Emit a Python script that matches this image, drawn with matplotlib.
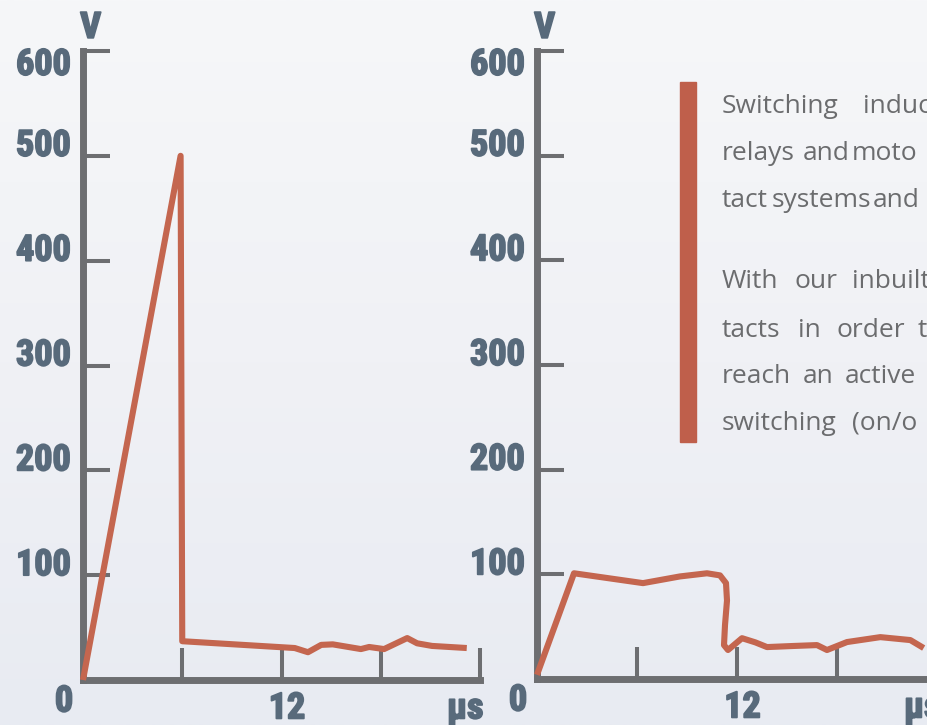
import numpy as np
import matplotlib
matplotlib.use("Agg")
import matplotlib.pyplot as plt
import matplotlib.patheffects as pe
from matplotlib.colors import LinearSegmentedColormap
from matplotlib.transforms import offset_copy
from matplotlib import font_manager

# chart data
Y_TICKS = [100, 200, 300, 400, 500, 600]
X_TICKS = [6, 12, 18, 24]
X_LABEL_TICK = 12
X_MAX = 24
Y_MAX = 600

# left: hard switching, spike to 500 V
left_t = [0, 5.9, 6.0, 12.8, 13.6, 14.4, 15.1, 16.8, 17.3, 18.2, 19.6, 20.2, 21.1, 23.2]
left_v = [0, 500, 37, 30.5, 26.5, 33.5, 34, 29.5, 31.5, 29.5, 40, 35, 32.5, 30.5]

# right: with suppression, stays around 100 V
right_t = [0, 2.22, 6.36, 8.58, 10.2, 10.98, 11.34, 11.4, 11.28, 11.22, 11.46, 12.3,
           13.1, 13.8, 15.3, 16.8, 17.4, 18.6, 20.6, 22.4, 23.2]
right_v = [4, 101, 91.6, 98, 101, 99, 91.6, 75, 51.5, 32.4, 27.7, 39,
           35, 30.5, 31.5, 32.4, 27.7, 35.3, 40, 37.2, 29.6]

# side text (cut off at the right edge, as in the original)
TEXT_LINES = [
    ["Switching", "induc"],
    ["relays", "and", "moto"],
    ["tact", "systems", "and"],
    ["With", "our", "inbuilt"],
    ["tacts", "in", "order", "t"],
    ["reach", "an", "active"],
    ["switching", "(on/o"],
]
WORD_X = [
    [722, 863],
    [722, 803, 852],
    [722, 772, 873],
    [722, 795, 852],
    [722, 798, 837, 918],
    [722, 803, 845],
    [722, 852],
]
LINE_Y = [113, 160, 207, 288, 337, 383, 430]

W, H = 928, 725
AXIS_COL = "#6d6e71"
LABEL_COL = "#586a7b"
LINE_COL = "#c4664f"
BAR_COL = "#bf5f4b"
TEXT_COL = "#6b6c6e"

# pick a narrow bold face if one is installed
installed = {f.name for f in font_manager.fontManager.ttflist}
NUM_FONT = "DejaVu Sans"
NUM_SIZE = 19
for name in ["Liberation Sans Narrow", "DejaVu Sans Condensed", "Roboto Condensed",
             "Open Sans Condensed", "Noto Sans Condensed"]:
    if name in installed:
        NUM_FONT = name
        NUM_SIZE = 26
        break
HEAVY = [pe.withStroke(linewidth=1.3, foreground=LABEL_COL)]

fig = plt.figure(figsize=(W / 100, H / 100), dpi=100)

# soft background gradient
bg = fig.add_axes([0, 0, 1, 1])
grad = np.linspace(0, 1, 256).reshape(-1, 1)
cmap = LinearSegmentedColormap.from_list("bg", ["#f6f7f9", "#f0f1f5", "#e8ebf2"])
bg.imshow(grad, aspect="auto", cmap=cmap, extent=[0, 1, 0, 1])
bg.axis("off")


def px_axes(x0, x1, y_bot, y_top):
    return fig.add_axes([x0 / W, 1 - y_bot / H, (x1 - x0) / W, (y_bot - y_top) / H])


def num_text(ax, x, y, s, tr, ha, va):
    ax.text(x, y, s, transform=tr, ha=ha, va=va, fontsize=NUM_SIZE,
            fontweight="bold", color=LABEL_COL, family=[NUM_FONT, "DejaVu Sans"],
            path_effects=HEAVY)


def draw_chart(ax, t, v):
    ax.set_xlim(0, X_MAX)
    ax.set_ylim(0, Y_MAX)
    ax.patch.set_visible(False)
    for s in ["top", "right"]:
        ax.spines[s].set_visible(False)
    for s in ["left", "bottom"]:
        ax.spines[s].set_color(AXIS_COL)
        ax.spines[s].set_linewidth(5)
        ax.spines[s].set_capstyle("projecting")
    ax.set_yticks(Y_TICKS)
    ax.set_yticklabels([])
    ax.set_xticks(X_TICKS)
    ax.set_xticklabels([])
    ax.tick_params(axis="y", direction="in", length=19.5, width=2.9, color=AXIS_COL)
    ax.tick_params(axis="x", direction="in", length=23, width=2.9, color=AXIS_COL)

    ax.plot(t, v, color=LINE_COL, lw=4.4, zorder=3, clip_on=False,
            solid_capstyle="butt")

    ytr = ax.get_yaxis_transform()
    for val in Y_TICKS:
        if val == Y_MAX:
            num_text(ax, 0, val, str(val), offset_copy(ytr, fig, x=-8.6, y=3, units="points"),
                     "right", "top")
        else:
            num_text(ax, 0, val, str(val), offset_copy(ytr, fig, x=-8.6, y=0, units="points"),
                     "right", "baseline")

    num_text(ax, 0, Y_MAX, "V", offset_copy(ax.transData, fig, x=5.5, y=9.5, units="points"),
             "center", "baseline")
    num_text(ax, 0, 0, "0", offset_copy(ax.transData, fig, x=-7, y=-2.5, units="points"),
             "right", "top")
    num_text(ax, X_LABEL_TICK, 0, str(X_LABEL_TICK),
             offset_copy(ax.transData, fig, x=4, y=-7.5, units="points"), "center", "top")
    num_text(ax, X_MAX, 0, "µs", offset_copy(ax.transData, fig, x=2.5, y=-7.5, units="points"),
             "right", "top")


ax1 = px_axes(83, 480, 680, 51)
draw_chart(ax1, left_t, left_v)

ax2 = px_axes(537, 937, 679, 51)
draw_chart(ax2, right_t, right_v)

# red bar next to the text
bar = plt.Rectangle((680 / W, 1 - 442 / H), 16 / W, 360 / H, transform=fig.transFigure,
                    color=BAR_COL, zorder=5)
fig.patches.append(bar)

for words, xs, y in zip(TEXT_LINES, WORD_X, LINE_Y):
    for w, x in zip(words, xs):
        fig.text(x / W, 1 - y / H, w, ha="left", va="baseline", fontsize=19,
                 color=TEXT_COL, family=["Open Sans", "DejaVu Sans"])

fig.savefig("out.png", dpi=100)
